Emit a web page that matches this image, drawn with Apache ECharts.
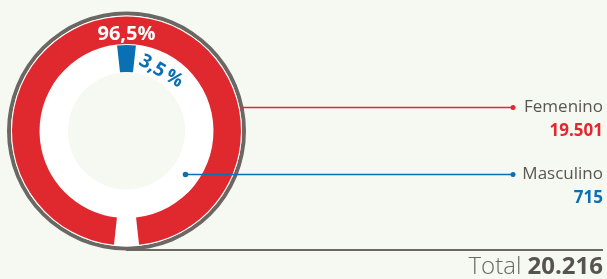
<!DOCTYPE html>
<html>
<head>
<meta charset="utf-8">
<script src="https://cdn.jsdelivr.net/npm/echarts@6/dist/echarts.min.js"></script>
<style>
  html, body { margin: 0; padding: 0; background: #f6f8f2; }
  #chart { width: 607px; height: 279px; }
</style>
</head>
<body>
<div id="chart"></div>
<script>
// data
const categories = ['Femenino', 'Masculino'];
const counts = [19501, 715];
const percents = [96.5, 3.5];
const total = 20216;

const RED = '#e0282f';
const BLUE = '#0a70b4';
const GRAY = '#6b6864';
const TEXT = '#5a5651';
const FONT = '"Open Sans", "Noto Sans", sans-serif';

const cx = 126.5;
const cy = 131;

const fmtPct = v => String(v).replace('.', ',') + '%';
const fmtNum = v => String(v).replace(/\B(?=(\d{3})+(?!\d))/g, '.');

const myChart = echarts.init(document.getElementById('chart'), null, { renderer: 'canvas' });

// where the small label sits (angle from top, clockwise)
const blueLabelAngle = 30;
const blueLabelR = 69;
const rad = blueLabelAngle * Math.PI / 180;

const option = {
  backgroundColor: '#f6f8f2',
  animation: false,
  series: [
    {
      // gray outer ring
      type: 'pie',
      silent: true,
      center: [cx, cy],
      radius: [115.5, 119.5],
      label: { show: false },
      itemStyle: { color: GRAY, borderWidth: 0 },
      data: [{ value: total, name: 'total' }],
    },
    {
      // white band
      type: 'pie',
      silent: true,
      center: [cx, cy],
      radius: [58.5, 115.5],
      label: { show: false },
      itemStyle: { color: '#ffffff', borderWidth: 0 },
      data: [{ value: total, name: 'bg' }],
    },
    {
      // Femenino, outer band
      type: 'pie',
      silent: true,
      center: [cx, cy],
      radius: [87, 114.5],
      startAngle: 270 - percents[1] * 1.8,
      label: {
        show: true,
        position: 'inside',
        color: '#ffffff',
        fontWeight: 'bold',
        fontSize: 20,
        fontFamily: FONT,
        formatter: p => fmtPct(p.value),
      },
      labelLayout: { dy: 7 },
      labelLine: { show: false },
      itemStyle: { borderWidth: 0 },
      data: [
        { value: percents[0], name: categories[0], itemStyle: { color: RED } },
        { value: percents[1], name: 'gap', itemStyle: { color: 'transparent' }, label: { show: false } },
      ],
    },
    {
      // Masculino, inner band
      type: 'pie',
      silent: true,
      center: [cx, cy],
      radius: [59, 86],
      startAngle: 90 + percents[1] * 1.8,
      label: { show: false },
      itemStyle: { borderWidth: 0 },
      data: [
        { value: percents[1], name: categories[1], itemStyle: { color: BLUE } },
        { value: percents[0], name: 'rest', itemStyle: { color: 'transparent' } },
      ],
    },
  ],
  graphic: {
    elements: [
      {
        type: 'text',
        z: 100,
        x: cx + blueLabelR * Math.sin(rad),
        y: cy - blueLabelR * Math.cos(rad),
        rotation: -rad,
        style: {
          text: fmtPct(percents[1]).replace('%', '\u2009%'),
          fill: BLUE,
          font: 'bold 19px ' + FONT,
          align: 'center',
          verticalAlign: 'middle',
        },
      },
      // leader lines
      { type: 'line', z: 100, shape: { x1: 240, y1: 107.5, x2: 513, y2: 107.5 }, style: { stroke: RED, lineWidth: 1.5 } },
      { type: 'circle', z: 100, shape: { cx: 513, cy: 107.5, r: 2.5 }, style: { fill: RED } },
      { type: 'line', z: 100, shape: { x1: 185.5, y1: 174.5, x2: 513, y2: 174.5 }, style: { stroke: BLUE, lineWidth: 1.5 } },
      { type: 'circle', z: 100, shape: { cx: 185.5, cy: 174.5, r: 2.8 }, style: { fill: BLUE } },
      { type: 'circle', z: 100, shape: { cx: 513, cy: 174.5, r: 2.5 }, style: { fill: BLUE } },
      // right side labels
      {
        type: 'text', z: 100, x: 603, y: 107,
        style: { text: categories[0], fill: TEXT, font: '17px ' + FONT, align: 'right', verticalAlign: 'middle' },
      },
      {
        type: 'text', z: 100, x: 603, y: 131,
        style: { text: fmtNum(counts[0]), fill: RED, font: 'bold 17px ' + FONT, align: 'right', verticalAlign: 'middle' },
      },
      {
        type: 'text', z: 100, x: 603, y: 174,
        style: { text: categories[1], fill: TEXT, font: '17px ' + FONT, align: 'right', verticalAlign: 'middle' },
      },
      {
        type: 'text', z: 100, x: 603, y: 198,
        style: { text: fmtNum(counts[1]), fill: BLUE, font: 'bold 17px ' + FONT, align: 'right', verticalAlign: 'middle' },
      },
      // bottom rule + total
      { type: 'line', z: 100, shape: { x1: 126, y1: 250, x2: 603, y2: 250 }, style: { stroke: GRAY, lineWidth: 2 } },
      {
        type: 'text', z: 100, x: 603, y: 267,
        style: {
          text: '{a|Total }{b|' + fmtNum(total) + '}',
          align: 'right',
          verticalAlign: 'middle',
          rich: {
            a: { fontSize: 24, fontWeight: 300, fontFamily: FONT, fill: GRAY, color: GRAY },
            b: { fontSize: 24, fontWeight: 'bold', fontFamily: FONT, fill: '#57534f', color: '#57534f' },
          },
        },
      },
    ],
  },
};
myChart.setOption(option, true);
</script>
</body>
</html>
